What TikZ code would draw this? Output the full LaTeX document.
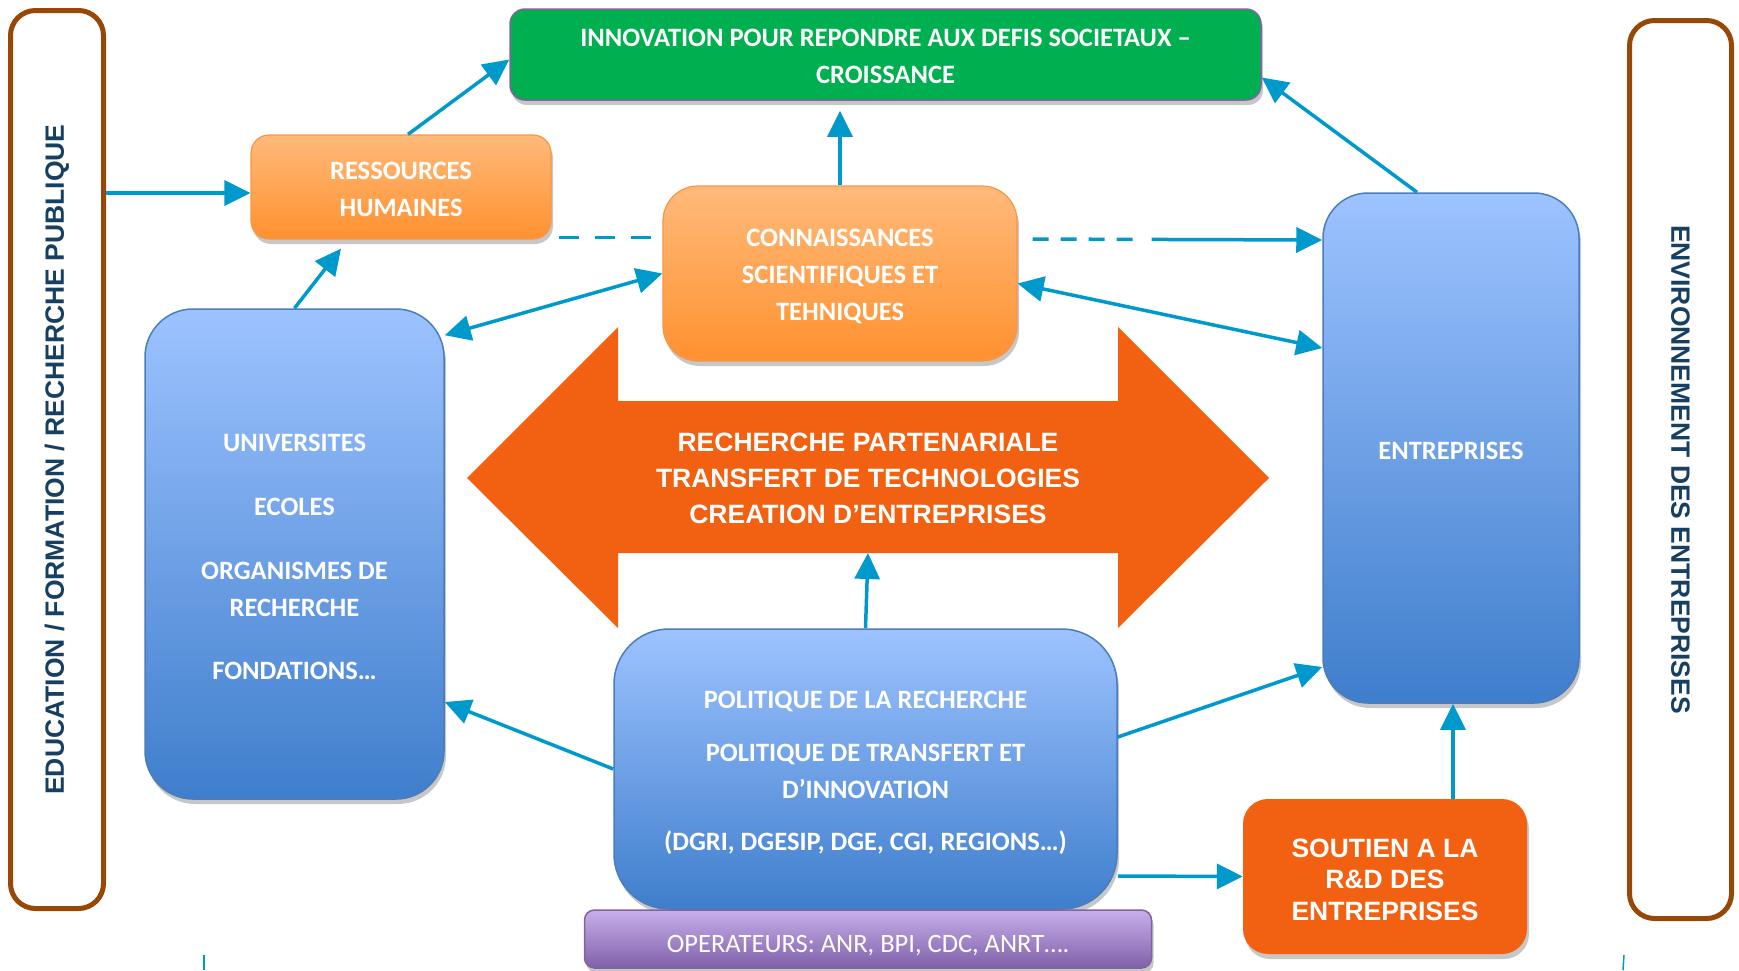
\documentclass[tikz,border=0pt]{standalone}
\usepackage{fontspec}
\newfontfamily\calib{Carlito}
\newfontfamily\arialf{Liberation Sans}
\usetikzlibrary{arrows.meta,shadows}
\definecolor{brownc}{HTML}{974706}
\definecolor{navy}{HTML}{173F62}
\definecolor{conc}{HTML}{0099CC}
\definecolor{greenc}{HTML}{00B050}
\definecolor{purpb}{HTML}{8064A2}
\definecolor{orTop}{HTML}{FFBA7A}
\definecolor{orBot}{HTML}{FF9130}
\definecolor{orBorder}{HTML}{F79646}
\definecolor{blTop}{HTML}{9DC3FF}
\definecolor{blBot}{HTML}{3F7ECC}
\definecolor{blBorder}{HTML}{4A7DBD}
\definecolor{puTop}{HTML}{C7AFEA}
\definecolor{puBot}{HTML}{8060AA}
\definecolor{redor}{HTML}{F26111}
\tikzset{
  calt/.style={font=\calib\bfseries\fontsize{26.5}{37}\selectfont, text=white, align=center, inner sep=0pt},
  arit/.style={font=\arialf\bfseries\fontsize{26.5}{31.5}\selectfont, text=white, align=center, inner sep=0pt},
  sh/.style={drop shadow={shadow xshift=2pt,shadow yshift=-5pt,opacity=0.22,fill=black}},
  bluebox/.style={sh, draw=blBorder, line width=1.5pt, top color=blTop, bottom color=blBot, rounded corners=#1},
  orbox/.style={sh, draw=orBorder, line width=1.2pt, top color=orTop, bottom color=orBot, rounded corners=#1},
  greenbox/.style={sh, fill=greenc, draw=purpb, line width=1.5pt, rounded corners=15pt},
  purbox/.style={sh, draw=purpb, line width=1.5pt, top color=puTop, bottom color=puBot, rounded corners=10pt},
  redbox/.style={sh, fill=redor, rounded corners=25pt},
  brownbox/.style={draw=brownc, line width=5pt, rounded corners=25pt, fill=white, font=\arialf\bfseries\fontsize{26.5}{32}\selectfont, text=navy},
  conn/.style={draw=conc, line width=3.5pt, -{Triangle[length=26pt,width=25pt]}},
  dconn/.style={draw=conc, line width=3.5pt, {Triangle[length=26pt,width=25pt]}-{Triangle[length=26pt,width=25pt]}},
  dashline/.style={draw=conc, line width=3.5pt, dash pattern=on 20pt off 16pt},
  tick/.style={draw=conc, line width=1.5pt}
}
\begin{document}
\begin{tikzpicture}[x=1pt,y=-1pt]
\useasboundingbox (0,0) rectangle (1739,970);

% side frames
\node[brownbox, rotate=90, minimum width=898pt, minimum height=93pt] (edu) at (57,459.5) {EDUCATION / FORMATION / RECHERCHE PUBLIQUE};
\node[brownbox, rotate=-90, minimum width=898pt, minimum height=102pt] (env) at (1680.5,469.5) {ENVIRONNEMENT DES ENTREPRISES};

% big double arrow
\fill[redor] (467,478) -- (618,327) -- (618,401) -- (1118,401) -- (1118,327) -- (1269,478)
  -- (1118,628) -- (1118,553) -- (618,553) -- (618,628) -- cycle;
\node[arit, font=\arialf\bfseries\fontsize{26.5}{36}\selectfont] (bigarrow) at (868,478.5) {RECHERCHE PARTENARIALE\\TRANSFERT DE TECHNOLOGIES\\CREATION D’ENTREPRISES};
\coordinate (arrbot) at (868,553);

% boxes
\node[greenbox, minimum width=751pt, minimum height=91pt] (green) at (885.5,54.5) {};
\node[orbox=18pt, minimum width=300pt, minimum height=104pt] (rh) at (401,187) {};
\node[orbox=35pt, minimum width=354pt, minimum height=175pt] (con) at (840,273.5) {};
\node[bluebox=48pt, minimum width=299pt, minimum height=490pt] (univ) at (294.5,554) {};
\node[bluebox=45pt, minimum width=256pt, minimum height=510pt] (ent) at (1451,448) {};
\node[bluebox=55pt, minimum width=503pt, minimum height=280pt] (pol) at (865.5,769) {};
\node[purbox, minimum width=567pt, minimum height=58pt] (ops) at (868,939) {};
\node[redbox, minimum width=284pt, minimum height=155pt] (sou) at (1385,876.5) {};

% box texts
\node[calt] (greent) at ([yshift=-2pt]green.center) {INNOVATION POUR REPONDRE AUX DEFIS SOCIETAUX –\\CROISSANCE};
\node[calt] (rht) at ([yshift=-2pt]rh.center) {RESSOURCES\\HUMAINES};
\node[calt] (cont) at ([yshift=-3pt]con.center) {CONNAISSANCES\\SCIENTIFIQUES ET\\TEHNIQUES};
\node[calt] (univt) at ([yshift=-2.5pt]univ.center) {UNIVERSITES\\[27pt]ECOLES\\[27pt]ORGANISMES DE\\RECHERCHE\\[26pt]FONDATIONS…};
\node[calt] (entt) at ([yshift=-2.5pt]ent.center) {ENTREPRISES};
\node[calt] (polt) at ([yshift=-4pt]pol.center) {POLITIQUE DE LA RECHERCHE\\[16pt]POLITIQUE DE TRANSFERT ET\\D’INNOVATION\\[15pt](DGRI, DGESIP, DGE, CGI, REGIONS…)};
\node[calt, font=\calib\fontsize{26.5}{37}\selectfont] (opst) at ([yshift=-6.5pt]ops.center) {OPERATEURS: ANR, BPI, CDC, ANRT….};
\node[arit] (sout) at ([yshift=-3pt]sou.center) {SOUTIEN A LA\\R\&D DES\\ENTREPRISES};

% connectors
\coordinate (rhin) at ([yshift=-6pt]rh.west);
\draw[conn] (edu.south |- rhin) -- (rhin);
\draw[conn] ([xshift=7pt]rh.north) -- ([yshift=-5pt]green.west);
\draw[conn] (univ.north) -- ([xshift=-60pt,yshift=-9pt]rh.south);
\draw[dconn] ([yshift=-27pt]univ.north east) -- (con.west);
\draw[conn, shorten >=10pt] (con.north) -- (con.north |- green.south);
\draw[dconn] ([yshift=-10pt]con.east) -- ([yshift=100pt]ent.west);
\draw[dashline, shorten <=7pt, shorten >=8pt] ([yshift=2pt]rh.south east) -- ([yshift=2pt]rh.south east -| con.west);
\draw[conn, dash pattern=on 16pt off 12pt on 16pt off 12pt on 16pt off 12pt on 16pt off 19pt on 600pt, shorten <=15pt] ([yshift=34.5pt]con.east) -- ([yshift=208pt]ent.west);
\draw[conn] ([xshift=-34pt]ent.north) -- ([yshift=-23pt]green.east);
\draw[conn] (pol.north) -- (arrbot);
\draw[conn] (pol.west) -- ([yshift=-148pt]univ.east);
\draw[conn] ([yshift=32pt]pol.east) -- ([yshift=-219pt]ent.west);
\draw[conn] ([yshift=-107pt]pol.east) -- (sou.west);
\draw[conn] ([xshift=68pt]sou.north) -- ([xshift=68pt]sou.north |- ent.south);

% small fragments at the bottom
\coordinate (t1a) at (204,955); \coordinate (t1b) at (204,970);
\coordinate (t2a) at (1624,955); \coordinate (t2b) at (1623,970);
\draw[tick] (t1a) -- (t1b);
\draw[tick] (t2a) -- (t2b);
\end{tikzpicture}
\end{document}
